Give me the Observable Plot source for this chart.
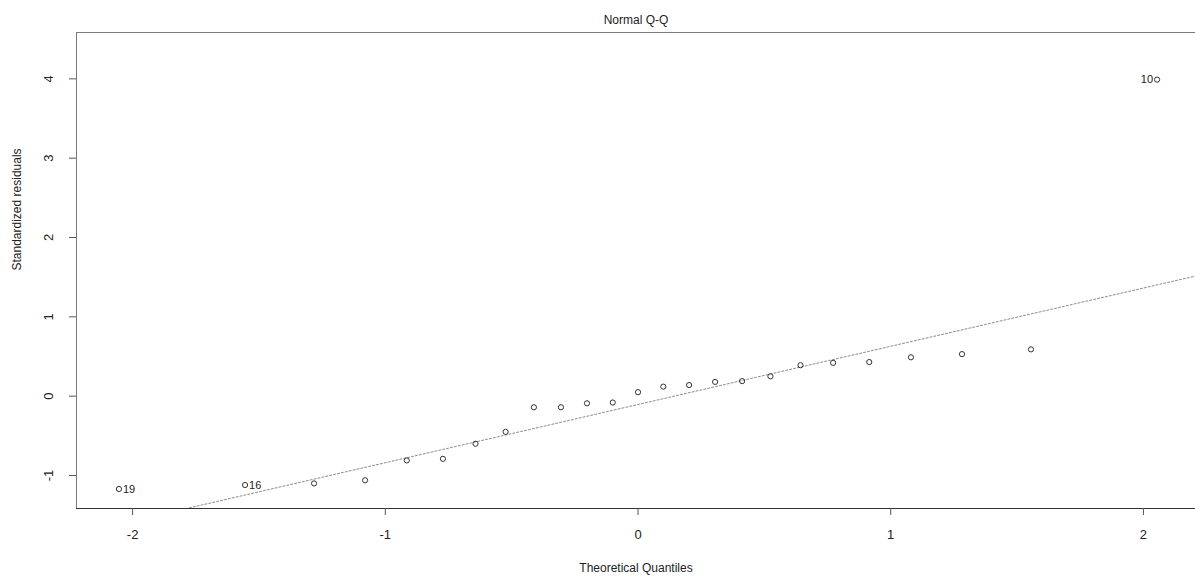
<!DOCTYPE html>
<html>
<head>
<meta charset="utf-8">
<script src="https://cdn.jsdelivr.net/npm/d3@7"></script>
<script src="https://cdn.jsdelivr.net/npm/@observablehq/plot@0.6"></script>
<style>
  html, body { margin: 0; padding: 0; background: #fff; }
  svg { display: block; }
</style>
</head>
<body>
<div id="chart"></div>
<script>
// Theoretical normal quantiles (n = 25)
const theoretical = [-2.054, -1.555, -1.282, -1.080, -0.915, -0.772, -0.643, -0.524, -0.412, -0.305,
  -0.202, -0.100, 0, 0.100, 0.202, 0.305, 0.412, 0.524, 0.643, 0.772, 0.915, 1.080, 1.282, 1.555, 2.054];
// Standardized residuals (sorted)
const residuals = [-1.17, -1.12, -1.10, -1.06, -0.81, -0.79, -0.60, -0.45, -0.14, -0.14,
  -0.09, -0.08, 0.05, 0.12, 0.14, 0.18, 0.19, 0.25, 0.39, 0.42, 0.43, 0.49, 0.53, 0.59, 3.99];
// Observation ids labelled on the plot
const labelIds = ["19", "16", "10"];
const labelIdx = [0, 1, 24];
const labelSide = ["right", "right", "left"];
const xTicks = [-2, -1, 0, 1, 2];
const yTicks = [-1, 0, 1, 2, 3, 4];

const xDomain = [-2.222, 2.206];
const yDomain = [-1.416, 4.584];

const points = theoretical.map((x, i) => ({x, y: residuals[i]}));
const labels = labelIdx.map((k, j) => ({x: theoretical[k], y: residuals[k], id: labelIds[j], side: labelSide[j]}));

// qqline through the quartiles
const q1 = d3.quantile(residuals, 0.25), q3 = d3.quantile(residuals, 0.75);
const zq = 0.6745;
const slope = (q3 - q1) / (2 * zq);
const intercept = q1 + zq * slope;
const lineXs = [-2.3, 2.3];
const qqline = lineXs.map(x => ({x, y: intercept + slope * x}));

const font = "Liberation Sans, Arial, sans-serif";
const fmt = d => String(d);

const chart = Plot.plot({
  width: 1195,
  height: 577,
  marginTop: 32,
  marginBottom: 69,
  marginLeft: 76,
  marginRight: 0,
  style: {fontFamily: font, fontSize: "12px", color: "#222", background: "#fff"},
  x: {domain: xDomain},
  y: {domain: yDomain},
  marks: [
    Plot.line(qqline, {x: "x", y: "y", stroke: "#8a8a8a", strokeWidth: 1, strokeDasharray: "2,2", clip: true}),
    Plot.dot(points, {x: "x", y: "y", r: 2.6, stroke: "#333", strokeWidth: 1, fill: "none"}),
    Plot.text(labels.filter(d => d.side === "right"), {x: "x", y: "y", text: "id", dx: 4, textAnchor: "start", fontSize: 11, fill: "#222"}),
    Plot.text(labels.filter(d => d.side === "left"), {x: "x", y: "y", text: "id", dx: -4, textAnchor: "end", fontSize: 11, fill: "#222"}),
    Plot.ruleX([xDomain[0]], {stroke: "#7a7a7a", strokeWidth: 1}),
    Plot.ruleY([yDomain[1]], {stroke: "#7a7a7a", strokeWidth: 1}),
    Plot.ruleY([yDomain[0]], {stroke: "#333", strokeWidth: 1}),
    Plot.axisX({ticks: xTicks, tickFormat: fmt, tickSize: 7, tickPadding: 14, fontSize: 13, stroke: "#555", label: null}),
    Plot.axisY({ticks: yTicks, tickFormat: fmt, tickSize: 7, tickPadding: 17, tickRotate: -90, fontSize: 13, stroke: "#555", label: null}),
    Plot.text(["Normal Q-Q"], {frameAnchor: "top", lineAnchor: "middle", dy: -12, fontSize: 12, fill: "#222"}),
    Plot.text(["Theoretical Quantiles"], {frameAnchor: "bottom", lineAnchor: "middle", dy: 60, fontSize: 12, fill: "#222"}),
    Plot.text(["Standardized residuals"], {frameAnchor: "left", dx: -59, rotate: -90, fontSize: 12, fill: "#222"})
  ]
});
document.getElementById("chart").appendChild(chart);
</script>
</body>
</html>
